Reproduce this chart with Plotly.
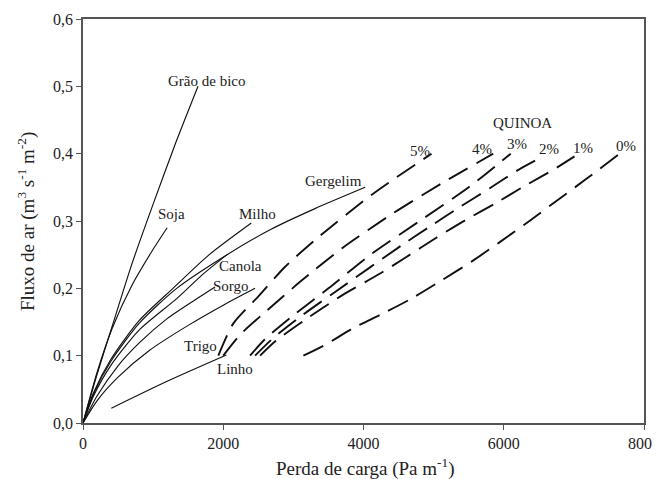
import plotly.graph_objects as go

# ---------------- data ----------------
grao_x = [0, 200, 414, 700, 1000, 1300, 1640]
grao_y = [0, 0.072, 0.143, 0.237, 0.325, 0.41, 0.5]

soja_x = [0, 200, 414, 700, 1000, 1200]
soja_y = [0, 0.075, 0.14, 0.205, 0.258, 0.29]

milho_x = [0, 150, 400, 800, 1284, 1800, 2400]
milho_y = [0, 0.045, 0.095, 0.152, 0.2, 0.25, 0.297]

gergelim_x = [0, 150, 400, 800, 1336, 2054, 2668, 3300, 4023]
gergelim_y = [0, 0.043, 0.092, 0.148, 0.2, 0.25, 0.287, 0.318, 0.35]

canola_x = [0, 150, 400, 800, 1340, 1700, 2054]
canola_y = [0, 0.04, 0.086, 0.138, 0.185, 0.22, 0.25]

trigo_x = [0, 200, 500, 813, 1200, 1600, 1883]
trigo_y = [0, 0.04, 0.085, 0.12, 0.155, 0.183, 0.202]

sorgo_x = [0, 200, 500, 950, 1500, 2000, 2454]
sorgo_y = [0, 0.033, 0.068, 0.108, 0.145, 0.175, 0.2]

linho_x = [404, 1200, 2045]
linho_y = [0.022, 0.062, 0.101]

q5_x = [1930, 2145, 2501, 2882, 3310, 4118, 4970]
q5_y = [0.1, 0.148, 0.188, 0.232, 0.272, 0.339, 0.4]

q4_x = [2000, 2240, 2600, 3100, 3700, 4400, 5100, 5850]
q4_y = [0.1, 0.131, 0.165, 0.21, 0.26, 0.31, 0.355, 0.4]

q3_x = [2382, 2600, 3000, 3500, 4100, 4800, 5500, 6100]
q3_y = [0.1, 0.125, 0.16, 0.2, 0.25, 0.3, 0.35, 0.4]

q2_x = [2454, 2700, 3100, 3600, 4546, 4950, 5378, 5806, 6209, 6509]
q2_y = [0.1, 0.125, 0.158, 0.195, 0.264, 0.292, 0.321, 0.349, 0.376, 0.393]

q1_x = [2525, 2750, 3150, 3700, 4237, 4617, 5021, 5449, 5877, 6281, 6705, 7009]
q1_y = [0.1, 0.122, 0.152, 0.19, 0.222, 0.247, 0.274, 0.301, 0.326, 0.351, 0.376, 0.396]

q0_x = [3143, 3452, 3856, 4284, 4688, 5117, 5545, 5948, 6352, 6780, 7184, 7627]
q0_y = [0.1, 0.116, 0.141, 0.163, 0.185, 0.212, 0.24, 0.269, 0.299, 0.332, 0.363, 0.398]

# labels: text, x, y (data coordinates)
label_text = ["Grão de bico", "Soja", "Milho", "Gergelim", "Canola", "Sorgo",
              "Trigo", "Linho", "QUINOA", "5%", "4%", "3%", "2%", "1%", "0%"]
label_x = [1755, 1262, 2490, 3566, 2247, 2111, 1669, 2168, 6270,
           4807, 5685, 6191, 6648, 7133, 7746]
label_y = [0.508, 0.310, 0.311, 0.359, 0.233, 0.203, 0.114, 0.080, 0.445,
           0.404, 0.407, 0.414, 0.407, 0.409, 0.411]

x_ticks = [0, 2000, 4000, 6000, 8000]
y_ticks = [0, 0.1, 0.2, 0.3, 0.4, 0.5, 0.6]
y_ticktext = ["0,0", "0,1", "0,2", "0,3", "0,4", "0,5", "0,6"]

x_title = "Perda de carga (Pa m<sup>-1</sup>)"
y_title = "Fluxo de ar (m<sup>3</sup> s<sup>-1</sup> m<sup>-2</sup>)"

# ---------------- figure ----------------
FONT = "Liberation Serif"
TXT = "#222222"
fig = go.Figure()

solid = [(grao_x, grao_y), (soja_x, soja_y), (milho_x, milho_y),
         (gergelim_x, gergelim_y), (canola_x, canola_y), (trigo_x, trigo_y),
         (sorgo_x, sorgo_y), (linho_x, linho_y)]
for xs, ys in solid:
    fig.add_trace(go.Scatter(x=xs, y=ys, mode="lines",
                             line=dict(color="#111111", width=1.15, shape="spline", smoothing=0.7),
                             showlegend=False, hoverinfo="skip"))

dashed = [(q5_x, q5_y), (q4_x, q4_y), (q3_x, q3_y), (q2_x, q2_y), (q1_x, q1_y), (q0_x, q0_y)]
for xs, ys in dashed:
    fig.add_trace(go.Scatter(x=xs, y=ys, mode="lines",
                             line=dict(color="#111111", width=1.9, dash="22px,10px",
                                       shape="spline", smoothing=0.7),
                             showlegend=False, hoverinfo="skip"))

for t, x, y in zip(label_text, label_x, label_y):
    fig.add_annotation(x=x, y=y, text=t, showarrow=False, xref="x", yref="y",
                       font=dict(family=FONT, size=15, color=TXT))

# axis titles placed in paper coordinates
fig.add_annotation(x=-0.1016, y=0.4975, xref="paper", yref="paper", text=y_title,
                   textangle=-90, showarrow=False, xanchor="center", yanchor="middle",
                   font=dict(family=FONT, size=19, color=TXT))
fig.add_annotation(x=0.5027, y=-0.109, xref="paper", yref="paper", text=x_title,
                   showarrow=False, xanchor="center", yanchor="middle",
                   font=dict(family=FONT, size=19, color=TXT))

axis_common = dict(showline=True, linecolor="#555555", linewidth=1.5, mirror=True,
                   ticks="outside", ticklen=5, tickwidth=1.2, tickcolor="#555555",
                   showgrid=False, zeroline=False, automargin=False,
                   ticklabeloverflow="allow",
                   tickfont=dict(family=FONT, size=16, color=TXT))

fig.update_xaxes(range=[0, 8000], tickvals=x_ticks, ticktext=[str(v) for v in x_ticks],
                 **axis_common)
fig.update_yaxes(range=[0, 0.6], tickvals=y_ticks, ticktext=y_ticktext,
                 **axis_common)

# the page body adds an 8px offset; margins compensate for it
fig.update_layout(width=660, height=479, margin=dict(l=75, r=24, t=11, b=64),
                  plot_bgcolor="white", paper_bgcolor="white")

fig.write_html("out.html")
